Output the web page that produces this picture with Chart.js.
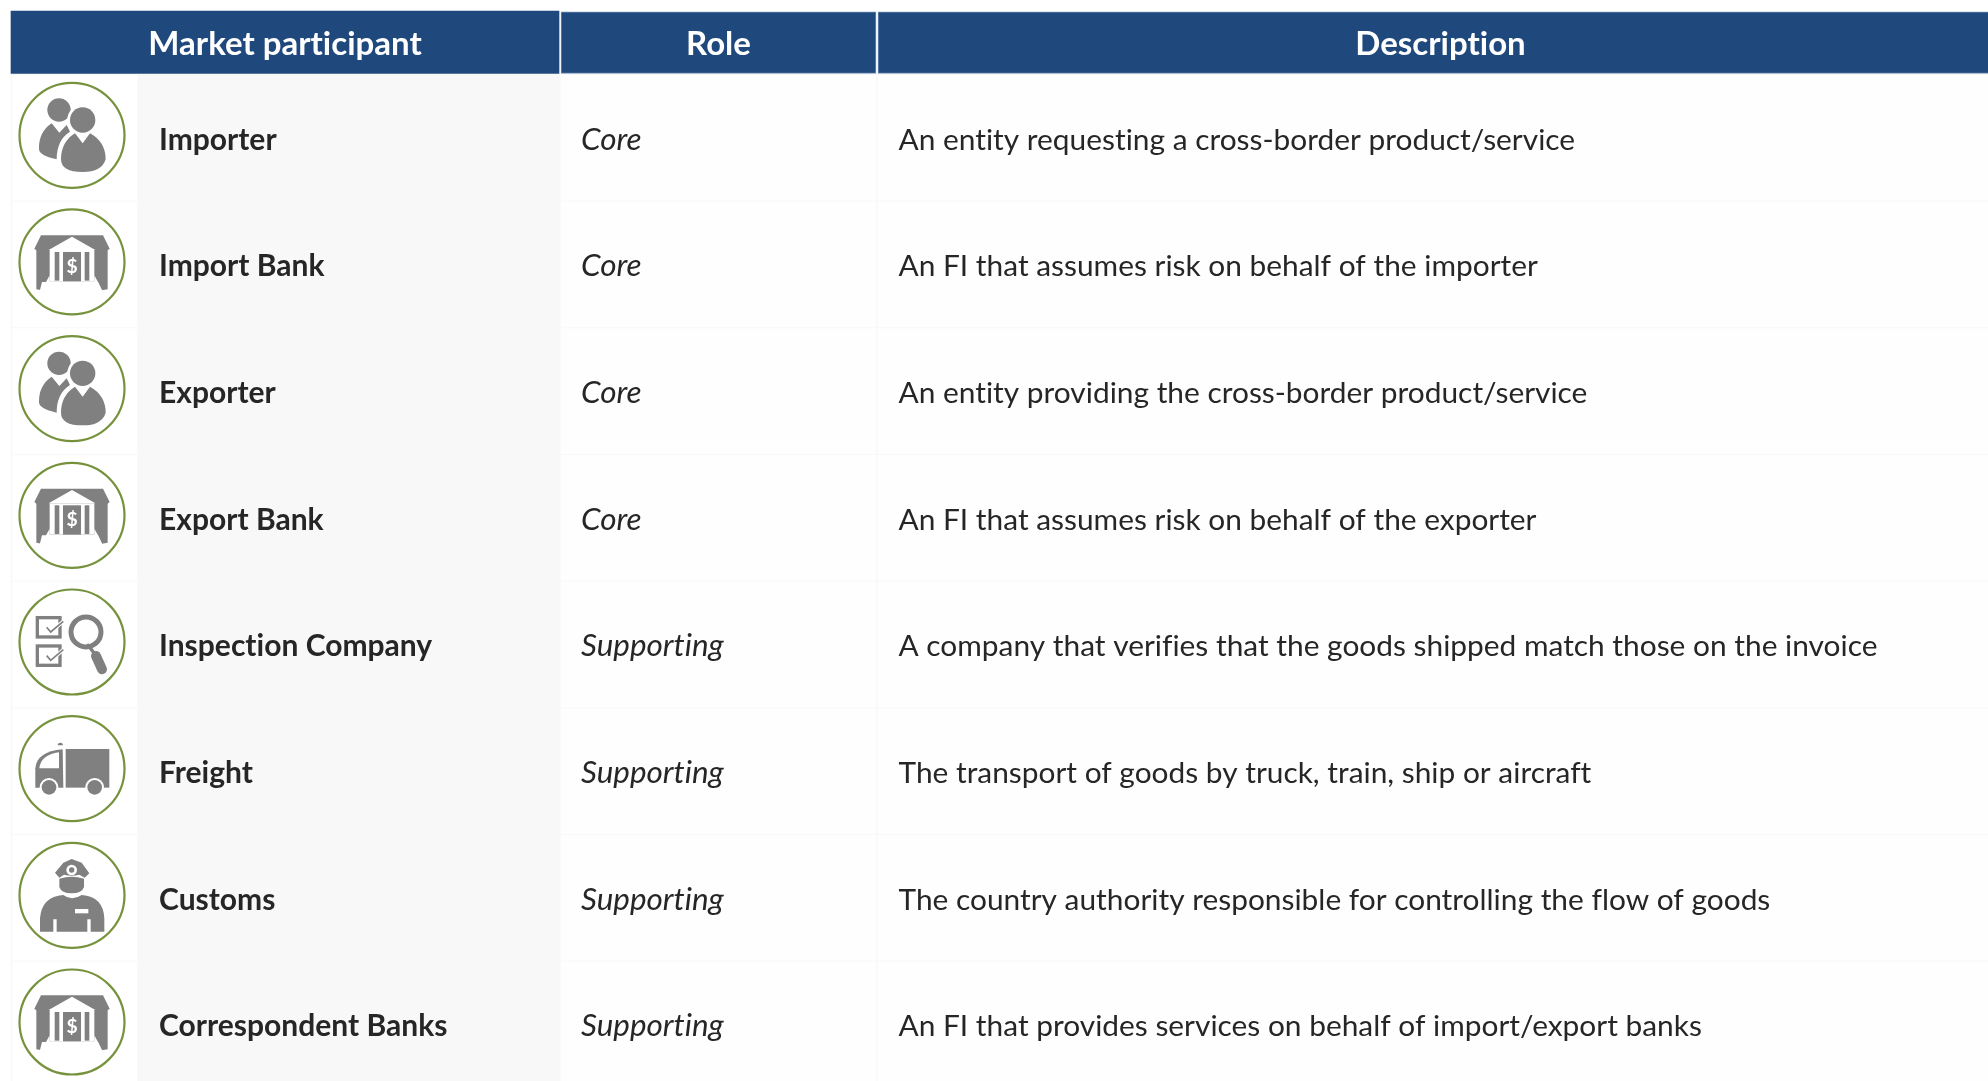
<!DOCTYPE html>
<html><head><meta charset="utf-8">
<style>html,body{margin:0;padding:0;background:#fff;overflow:hidden}canvas{display:block}</style>
<script src="https://cdn.jsdelivr.net/npm/chart.js@4"></script></head>
<body><canvas id="c" width="1988" height="1081"></canvas>
<script>
const headers = ["Market participant", "Role", "Description"];
const participants = ["Importer","Import Bank","Exporter","Export Bank","Inspection Company","Freight","Customs","Correspondent Banks"];
const roles = ["Core","Core","Core","Core","Supporting","Supporting","Supporting","Supporting"];
const descriptions = [
 "An entity requesting a cross-border product/service",
 "An FI that assumes risk on behalf of the importer",
 "An entity providing the cross-border product/service",
 "An FI that assumes risk on behalf of the exporter",
 "A company that verifies that the goods shipped match those on the invoice",
 "The transport of goods by truck, train, ship or aircraft",
 "The country authority responsible for controlling the flow of goods",
 "An FI that provides services on behalf of import/export banks"
];
const icons = ["people","bank","people","bank","inspect","truck","customs","bank"];

const W=1988,H=1081,rowTop=74.4,pitch=126.67;
const rowsOf=(px)=>(px-rowTop)/pitch;
const FAMILY='Lato, Carlito, sans-serif';
const rowIdx=participants.map((_,i)=>i);
const band=(a,b)=>rowIdx.map(i=>({x:[a,b],y:i+0.5}));

const G=(d)=>new Path2D(d);
const iconShapes={
 people:[
  ['c',-39,-76,35,'g'],
  ['p','M-61,-36 L-38,-8 L-16,-31 L-6,-11 Q-46,14 -46,72 Q-100,60 -99,40 Q-100,-10 -61,-36Z','g'],
  ['c',32,-46,46,'w'],['c',32,-46,38,'g'],
  ['ps','M9,-6 L32,24 L54,-6 Q101,20 101,72 Q90,110 32,110 Q-33,110 -33,72 Q-33,20 9,-6Z','g']
 ],
 bank:[
  ['p','M-93,-80 L93,-80 L113,-40 L107,-35 L107,82 L90,85 L78,60 L-78,60 L-90,85 L-107,82 L-107,-35 L-113,-40Z','g'],
  ['p','M0,-76 L70,-36 L-70,-36Z','w'],
  ['r',-67,-36,134,94,'w'],
  ['p','M-90,60 L-78,60 L-67,40 L-67,58 L67,58 L67,40 L78,60 L90,85 L100,100 L-100,100Z','w'],
  ['r',-52,-30,14,86,'g'],['r',38,-30,14,86,'g'],
  ['r',-27,-30,54,88,'g'],
  ['t','$',0,14]
 ],
 inspect:[
  ['b',-104,-73,68,58],['b',-104,12,68,58],
  ['check',-76,-44],['check',-76,41],
  ['ring',42,-30,45,15],
  ['line',48,10,70,38,10],
  ['line',72,42,90,82,30]
 ],
 truck:[
  ['r',-19,-59,131,116,'g'],
  ['p','M-110,57 L-110,-1 Q-106,-51 -28,-58 L-26,57Z','g'],
  ['p','M-98,-1 Q-94,-41 -39,-49 L-39,-1Z','w'],
  ['p','M-43,-70 A8,8 0 0 1 -27,-70Z','g'],
  ['c',-69,56,28,'w'],['c',68,56,28,'w'],
  ['c',-69,56,22,'g'],['c',68,56,22,'g']
 ],
 customs:[
  ['p','M-96,109 L-96,69 Q-91,4 -26,-1 Q-1,19 29,-1 Q94,4 97,69 L97,109 L56,109 L56,72 L46,72 L46,109 L-46,109 L-46,72 L-56,72 L-56,109Z','g'],
  ['r',9,41,40,13,'w'],
  ['p','M-38,-50 Q-1,-62 36,-50 L36,-25 Q30,-6 -1,-6 Q-32,-6 -38,-25Z','g'],
  ['p','M-51,-68 L-26,-98 L-1,-109 L29,-98 L52,-66 L38,-53 L22,-62 Q-1,-56 -24,-62 L-38,-53Z','g'],
  ['c',-1,-76,16,'w'],['c',-1,-76,8,'g']
 ]
};
function drawIcon(ctx,name,cx,cy){
 const gray='#808080',white='#ffffff';
 ctx.save();ctx.translate(cx,cy);ctx.scale(1/3,1/3);
 for(const s of iconShapes[name]){
  const k=s[0];
  if(k==='c'){ctx.fillStyle=s[4]==='w'?white:gray;ctx.beginPath();ctx.arc(s[1],s[2],s[3],0,7);ctx.fill();}
  if(k==='r'){ctx.fillStyle=s[5]==='w'?white:gray;ctx.fillRect(s[1],s[2],s[3],s[4]);}
  if(k==='p'){ctx.fillStyle=s[2]==='w'?white:gray;ctx.fill(G(s[1]));}
  if(k==='ps'){ctx.fillStyle=gray;ctx.fill(G(s[1]));}
  if(k==='t'){ctx.fillStyle=white;ctx.font='bold 58px '+FAMILY;ctx.textAlign='center';ctx.textBaseline='middle';ctx.fillText(s[1],s[2],s[3]);}
  if(k==='b'){ctx.strokeStyle=gray;ctx.lineWidth=10;ctx.strokeRect(s[1],s[2],s[3],s[4]);}
  if(k==='check'){ctx.lineJoin='miter';ctx.strokeStyle=white;ctx.lineWidth=11;ctx.beginPath();ctx.moveTo(s[1],s[2]);ctx.lineTo(s[1]+12,s[2]+14);ctx.lineTo(s[1]+50,s[2]-18);ctx.stroke();
    ctx.strokeStyle=gray;ctx.lineWidth=5;ctx.stroke();}
  if(k==='ring'){ctx.strokeStyle=gray;ctx.lineWidth=s[4];ctx.beginPath();ctx.arc(s[1],s[2],s[3],0,7);ctx.stroke();}
  if(k==='line'){ctx.strokeStyle=gray;ctx.lineWidth=s[5];ctx.lineCap='round';ctx.beginPath();ctx.moveTo(s[1],s[2]);ctx.lineTo(s[3],s[4]);ctx.stroke();ctx.lineCap='butt';}
 }
 ctx.restore();
}
const tablePlugin={id:'tableText',afterDatasetsDraw(chart){
 const {ctx,scales:{x,y}}=chart;
 ctx.save();
 ctx.textBaseline='alphabetic';
 ctx.letterSpacing='0.01px';
 const text=(s,px,py,font,col,al)=>{ctx.font=font;ctx.fillStyle=col;ctx.textAlign=al||'left';ctx.fillText(s,px,py);};
 const hdrY=y.getPixelForValue(rowsOf(55));
 const headFont='bold 33px '+FAMILY;
 text(headers[0],x.getPixelForValue(285),hdrY,headFont,'#fff','center');
 text(headers[1],x.getPixelForValue(718.5),hdrY,headFont,'#fff','center');
 text(headers[2],x.getPixelForValue(1440.5),hdrY,headFont,'#fff','center');
 rowIdx.forEach(i=>{
  const by=y.getPixelForValue(i)+75.2;
  text(participants[i],x.getPixelForValue(159),by,'bold 30px '+FAMILY,'#262626');
  text(roles[i],x.getPixelForValue(581),by,'italic 31.4px '+FAMILY,'#262626');
  text(descriptions[i],x.getPixelForValue(898.5),by,'29.85px '+FAMILY,'#262626');
  drawIcon(ctx,icons[i],x.getPixelForValue(72),y.getPixelForValue(i)+60.9);
 });
 ctx.restore();
}};
const bar=(label,data,color,thick,extra)=>Object.assign({type:'bar',label,data,indexAxis:'y',backgroundColor:color,barThickness:thick,grouped:false,xAxisID:'x',yAxisID:'y',borderWidth:0},extra||{});
const headerY=rowsOf(42.6);
new Chart(document.getElementById('c'),{
 type:'bar',
 plugins:[tablePlugin],
 data:{datasets:[
  {type:'scatter',label:'icons',data:rowIdx.map(i=>({x:72,y:i+60.9/pitch})),showLine:false,pointRadius:52.5,pointBorderWidth:2.2,pointBackgroundColor:'rgba(255,255,255,1)',pointBorderColor:'#76923c',xAxisID:'x',yAxisID:'y',clip:false},
  bar('head0',[{x:[11,559],y:rowsOf(42.2)}],'#1f497c',62.4),
  bar('head1',[{x:[561,876],y:headerY}],'#1f497c',61.4,{borderWidth:1,borderColor:'#6e8db4',borderSkipped:false}),
  bar('head2',[{x:[878,1990],y:headerY}],'#1f497c',61.4,{borderWidth:1,borderColor:'#6e8db4',borderSkipped:false}),
  bar('icon cell',band(12.5,137),'#ffffff',125),
  bar('role cell',band(561,876),'#fefefe',125),
  bar('desc cell',band(878,1990),'#fefefe',125),
  bar('row band',band(11,1990),'#f8f8f8',126.8)
 ]},
 options:{
  responsive:false,animation:false,
  layout:{padding:0,autoPadding:false},
  plugins:{legend:{display:false},tooltip:{enabled:false},title:{display:false}},
  scales:{
   x:{type:'linear',display:false,offset:false,min:0,max:W},
   y:{type:'linear',display:false,offset:false,reverse:true,min:rowsOf(0),max:rowsOf(H)}
  }
 }
});
</script></body></html>
